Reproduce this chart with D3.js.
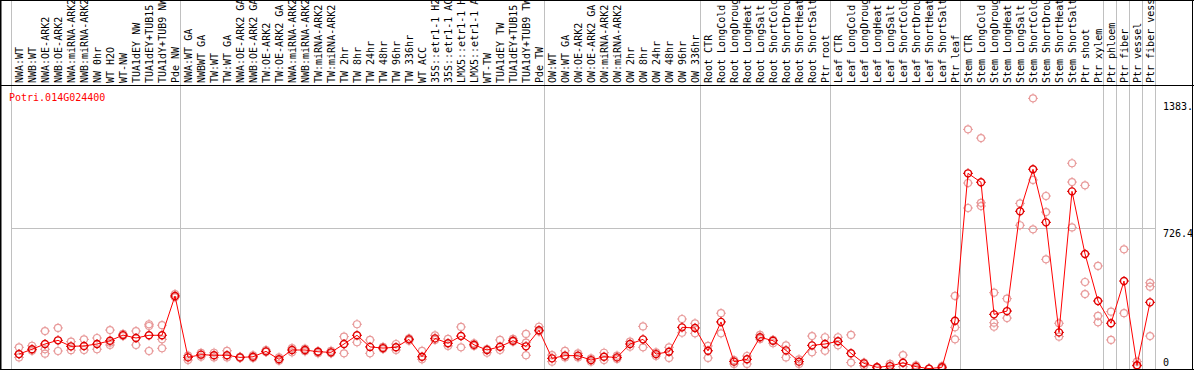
<!DOCTYPE html>
<html>
<head>
<meta charset="utf-8">
<script src="https://cdn.jsdelivr.net/npm/d3@7"></script>
<style>
  body { margin: 0; background: #fff; }
  text { font-family: "DejaVu Sans Mono", monospace; font-size: 10px; }
</style>
</head>
<body>
<script>
var geneId = 'Potri.014G024400'

var labels = [
    'NWA:WT', 'NWB:WT', 'NWA:OE-ARK2', 'NWB:OE-ARK2', 'NWA:miRNA-ARK2', 'NWB:miRNA-ARK2',
    'NW 0hr', 'WT H2O', 'WT-NW', 'TUA1dEY NW', 'TUA1dEY+TUB15 NW', 'TUA1dY+TUB9 NW', 'Pde NW',
    'NWA:WT GA', 'NWBWT GA', 'TW:WT', 'TW:WT GA', 'NWA:OE-ARK2 GA', 'NWB:OE-ARK2 GA',
    'TW:OE-ARK2', 'TW:OE-ARK2 GA', 'NWA:miRNA-ARK2', 'NWB:miRNA-ARK2', 'TW:miRNA-ARK2', 'TW:miRNA-ARK2',
    'TW 2hr', 'TW 8hr', 'TW 24hr', 'TW 48hr', 'TW 96hr', 'TW 336hr', 'WT ACC',
    '35S::etr1-1 H2O', '35S::etr1-1 ACC', 'LMX5::etr1-1 H2O', 'LMX5::etr1-1 ACC',
    'WT-TW', 'TUA1dEY TW', 'TUA1dEY+TUB15 TW', 'TUA1dY+TUB9 TW', 'Pde TW',
    'OW:WT', 'OW:WT GA', 'OW:OE-ARK2', 'OW:OE-ARK2 GA', 'OW:miRNA-ARK2', 'OW:miRNA-ARK2',
    'OW 2hr', 'OW 8hr', 'OW 24hr', 'OW 48hr', 'OW 96hr', 'OW 336hr',
    'Root CTR', 'Root LongCold', 'Root LongDrought', 'Root LongHeat', 'Root LongSalt',
    'Root ShortCold', 'Root ShortDrought', 'Root ShortHeat', 'Root ShortSalt', 'Ptr root',
    'Leaf CTR', 'Leaf LongCold', 'Leaf LongDrought', 'Leaf LongHeat', 'Leaf LongSalt',
    'Leaf ShortCold', 'Leaf ShortDrought', 'Leaf ShortHeat', 'Leaf ShortSalt', 'Ptr leaf',
    'Stem CTR', 'Stem LongCold', 'Stem LongDrought', 'Stem LongHeat', 'Stem LongSalt',
    'Stem ShortCold', 'Stem ShortDrought', 'Stem ShortHeat', 'Stem ShortSalt', 'Ptr shoot',
    'Ptr xylem', 'Ptr phloem', 'Ptr fiber', 'Ptr vessel', 'Ptr fiber vessel'
]

// index of the last column of each group (a separator is drawn after it)
var groupEnds = [12, 40, 52, 62, 72, 83, 84, 85, 86, 87]

var means = [
    77, 102, 129, 148, 117, 119, 129, 146, 175, 160, 174, 174, 377,
    60, 74, 71, 71, 60, 63, 91, 50, 98, 98, 89, 86, 129, 174, 114, 108, 112, 153, 63, 158, 133, 170, 125, 98, 115, 146, 117, 200,
    55, 69, 69, 46, 63, 60, 129, 153, 77, 89, 215, 212,
    94, 243, 38, 50, 164, 146, 96, 38, 122, 129,
    143, 81, 29, 9, 15, 32, 12, 2, 9, 249,
    1010, 964, 282, 299, 814, 1031, 757, 189, 917, 594,
    351, 236, 454, 19, 344
]

var replicates = [
    [112, 60, 77], [120, 94], [196, 102, 79], [212, 93], [141, 97], [153, 98], [160, 102],
    [201, 136, 124], [181, 170], [196, 124], [231, 222, 93], [226, 153, 107], [387, 370],
    [69, 46], [83, 63], [84, 60], [94, 60], [63, 57], [71, 57], [98, 88], [60, 43],
    [108, 86], [105, 91], [91, 81], [94, 81], [167, 81], [231, 138], [150, 81], [114, 103],
    [129, 98], [158, 146], [94, 50], [174, 150], [155, 119], [217, 112], [133, 119],
    [103, 84], [150, 98], [155, 141], [181, 136, 71], [218, 193],
    [72, 38], [94, 60], [81, 60], [55, 38], [84, 46], [69, 52], [141, 115], [220, 112],
    [86, 67], [112, 57], [258, 187], [236, 184],
    [119, 57], [288, 184], [46, 26], [67, 26], [176, 155], [150, 133], [122, 60],
    [50, 26], [170, 86], [164, 94],
    [164, 122], [176, 33], [33, 17], [10, 5], [26, 2], [72, 12], [19, 2], [2, 1],
    [15, 2], [377, 215, 153],
    [1237, 960, 831], [1192, 858, 841], [394, 239, 218], [363, 263], [855, 742],
    [1397, 976, 721], [893, 810, 566], [236, 167], [1062, 965, 731], [948, 449, 387],
    [532, 274, 241], [296, 150], [618, 288], [38, 15], [445, 425, 170]
]

var yTicks = [0, 726.4, 1383.2]
var yTickLabels = ['0', '726.4', '1383.2']
var yGrid = [726.4]

var width = 1194,
    height = 370,
    headerBottom = 85,
    plotBottom = 369,
    plotRight = 1155,
    r = 3.5

var svg = d3.select('body').append('svg')
    .attr('width', width)
    .attr('height', height)

var x = d3.scaleLinear()
    .domain([0, labels.length - 1])
    .range([19, 1150])

var y = d3.scaleLinear()
    .domain([0, 1466])
    .range([plotBottom, headerBottom])

svg.append('clipPath').attr('id', 'frame')
    .append('rect')
    .attr('x', 0).attr('y', 0)
    .attr('width', width - 2).attr('height', height)

var grid = svg.append('g')
    .attr('stroke', '#c0c0c0')
    .attr('stroke-width', 1)

var seps = [x(0) - 8].concat(groupEnds.map(i => x(i) + 5))
grid.selectAll('line.v')
    .data(seps)
    .join('line')
    .attr('class', 'v')
    .attr('x1', d => Math.round(d) + 0.5)
    .attr('x2', d => Math.round(d) + 0.5)
    .attr('y1', 0)
    .attr('y2', plotBottom)

grid.selectAll('line.h')
    .data(yGrid)
    .join('line')
    .attr('class', 'h')
    .attr('x1', x(0) - 8)
    .attr('x2', plotRight)
    .attr('y1', d => Math.round(y(d)) + 0.5)
    .attr('y2', d => Math.round(y(d)) + 0.5)

// column labels, rotated
svg.append('g')
    .selectAll('text')
    .data(labels)
    .join('text')
    .attr('transform', (d, i) => 'translate(' + (x(i) + 3.5) + ',' + (headerBottom - 2) + ') rotate(-90)')
    .attr('fill', '#000')
    .text(d => d)

// y tick labels on the right
svg.append('g')
    .attr('clip-path', 'url(#frame)')
    .selectAll('text')
    .data(yTicks)
    .join('text')
    .attr('x', plotRight + 8)
    .attr('y', d => Math.min(y(d) + 9, plotBottom - 3))
    .attr('fill', '#000')
    .text((d, i) => yTickLabels[i])

svg.append('text')
    .attr('x', 9)
    .attr('y', 101)
    .attr('fill', '#ff0000')
    .text(geneId)

// a circle with four small ticks, like the original marker
function marker(g, color, sw){
    g.append('circle')
        .attr('r', r)
        .attr('fill', 'none')
        .attr('stroke', color)
        .attr('stroke-width', sw)
    g.append('path')
        .attr('d', 'M0,' + (-r - 1.5) + 'V' + (-r) + 'M0,' + r + 'V' + (r + 1.5) +
                   'M' + (-r - 1.5) + ',0H' + (-r) + 'M' + r + ',0H' + (r + 1.5))
        .attr('stroke', color)
        .attr('stroke-width', 1)
}

// replicate points
var repPts = []
replicates.forEach((rs, i) => rs.forEach(v => repPts.push([i, v])))

svg.append('g')
    .selectAll('g')
    .data(repPts)
    .join('g')
    .attr('transform', d => 'translate(' + x(d[0]) + ',' + y(d[1]) + ')')
    .each(function(){ marker(d3.select(this), '#e89a9a', 1.2) })

var line = d3.line()
    .x((d, i) => x(i))
    .y(d => y(d))

svg.append('path')
    .datum(means)
    .attr('d', line)
    .attr('fill', 'none')
    .attr('stroke', '#ff0000')
    .attr('stroke-width', 1)

svg.append('g')
    .selectAll('g')
    .data(means)
    .join('g')
    .attr('transform', (d, i) => 'translate(' + x(i) + ',' + y(d) + ')')
    .each(function(){ marker(d3.select(this), '#e00000', 1.4) })

// frame
var frame = svg.append('g')
    .attr('stroke', '#000')
    .attr('stroke-width', 1)
frame.append('line').attr('x1', 0).attr('x2', width).attr('y1', 0.5).attr('y2', 0.5)
frame.append('line').attr('x1', 0).attr('x2', width).attr('y1', headerBottom + 0.5).attr('y2', headerBottom + 0.5)
frame.append('line').attr('x1', 0).attr('x2', width).attr('y1', plotBottom + 0.5).attr('y2', plotBottom + 0.5)
frame.append('line').attr('x1', 0.75).attr('x2', 0.75).attr('y1', 0).attr('y2', height).attr('stroke-width', 1.5)
frame.append('line').attr('x1', width - 1.5).attr('x2', width - 1.5).attr('y1', 0).attr('y2', height)
</script>
</body>
</html>
